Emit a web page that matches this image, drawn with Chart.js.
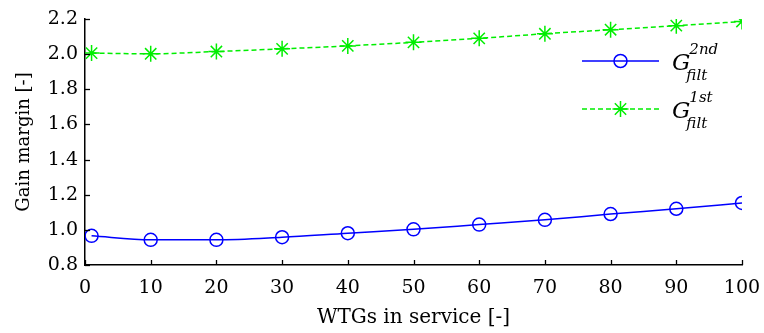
<!DOCTYPE html>
<html>
<head>
<meta charset="utf-8">
<script src="https://cdn.jsdelivr.net/npm/chart.js@4.4.1/dist/chart.umd.min.js"></script>
<style>
  html, body { margin: 0; padding: 0; background: #fff; }
  #wrap { width: 764px; height: 333px; }
</style>
</head>
<body>
<div id="wrap"><canvas id="chart" width="764" height="333"></canvas></div>
<script>
// WTGs in service
const wtgs = [1, 10, 20, 30, 40, 50, 60, 70, 80, 90, 100];
// gain margin, 2nd order filter
const gm2nd = [0.966, 0.943, 0.943, 0.958, 0.981, 1.003, 1.030, 1.057, 1.090, 1.120, 1.153];
// gain margin, 1st order filter
const gm1st = [2.006, 2.002, 2.015, 2.030, 2.047, 2.067, 2.090, 2.116, 2.139, 2.162, 2.186];
const xTicks = [0, 10, 20, 30, 40, 50, 60, 70, 80, 90, 100];
const yTicks = [0.8, 1.0, 1.2, 1.4, 1.6, 1.8, 2.0, 2.2];

const serif = "'DejaVu Serif', serif";

// inward tick marks, like the original plot
const inwardTicks = {
  id: 'inwardTicks',
  afterDraw(chart) {
    const { ctx, chartArea, scales } = chart;
    ctx.save();
    ctx.strokeStyle = '#000';
    ctx.lineWidth = 1.3;
    xTicks.forEach(v => {
      const px = Math.round(scales.x.getPixelForValue(v)) + 0.5;
      ctx.beginPath();
      ctx.moveTo(px, chartArea.bottom);
      ctx.lineTo(px, chartArea.bottom - 5);
      ctx.stroke();
    });
    yTicks.forEach(v => {
      const py = Math.round(scales.y.getPixelForValue(v)) + 0.5;
      ctx.beginPath();
      ctx.moveTo(chartArea.left, py);
      ctx.lineTo(chartArea.left + 5, py);
      ctx.stroke();
    });
    ctx.restore();
  }
};

// legend with G, superscript and subscript
const texLegend = {
  id: 'texLegend',
  afterDraw(chart) {
    const { ctx, chartArea } = chart;
    const x0 = chartArea.right - 160, x1 = chartArea.right - 83;
    const entries = [
      { ds: chart.data.datasets[0], y: 61, sup: '2nd' },
      { ds: chart.data.datasets[1], y: 109, sup: '1st' }
    ];
    ctx.save();
    entries.forEach(e => {
      ctx.strokeStyle = e.ds.borderColor;
      ctx.lineWidth = e.ds.borderWidth;
      ctx.setLineDash(e.ds.borderDash || []);
      ctx.beginPath();
      ctx.moveTo(x0, e.y);
      ctx.lineTo(x1, e.y);
      ctx.stroke();
      ctx.setLineDash([]);
      ctx.fillStyle = 'rgba(0,0,0,0)';
      ctx.lineWidth = e.ds.pointBorderWidth;
      Chart.helpers.drawPoint(ctx, {
        pointStyle: e.ds.pointStyle,
        radius: e.ds.pointRadius,
        borderWidth: e.ds.pointBorderWidth
      }, (x0 + x1) / 2, e.y);

      ctx.fillStyle = '#000';
      ctx.textBaseline = 'alphabetic';
      ctx.textAlign = 'left';
      const gx = x1 + 13;
      ctx.font = 'italic 23px ' + serif;
      ctx.fillText('G', gx, e.y + 9);
      const gw = ctx.measureText('G').width;
      ctx.font = 'italic 15px ' + serif;
      ctx.fillText(e.sup, gx + gw - 1, e.y - 7);
      ctx.fillText('filt', gx + gw - 4, e.y + 19);
    });
    ctx.restore();
  }
};

const ctx = document.getElementById('chart');
new Chart(ctx, {
  type: 'line',
  data: {
    datasets: [
      {
        label: 'G2nd filt',
        data: wtgs.map((x, i) => ({ x, y: gm2nd[i] })),
        borderColor: '#0000ff',
        backgroundColor: 'transparent',
        borderWidth: 1.5,
        pointStyle: 'circle',
        pointRadius: 6.5,
        pointBorderWidth: 1.5,
        pointBorderColor: '#0000ff',
        pointBackgroundColor: 'transparent',
        tension: 0.35,
        cubicInterpolationMode: 'monotone'
      },
      {
        label: 'G1st filt',
        data: wtgs.map((x, i) => ({ x, y: gm1st[i] })),
        borderColor: '#00ee00',
        backgroundColor: 'transparent',
        borderWidth: 1.5,
        borderDash: [5, 3],
        pointStyle: 'star',
        pointRadius: 8,
        pointBorderWidth: 1.5,
        pointBorderColor: '#00ee00',
        pointBackgroundColor: 'transparent',
        tension: 0.35,
        cubicInterpolationMode: 'monotone'
      }
    ]
  },
  options: {
    responsive: false,
    animation: false,
    layout: { padding: { top: 19, right: 22, left: 0, bottom: 0 } },
    plugins: {
      legend: { display: false },
      tooltip: { enabled: false }
    },
    scales: {
      x: {
        type: 'linear',
        min: 0,
        max: 100,
        afterBuildTicks: s => { s.ticks = xTicks.map(v => ({ value: v })); },
        afterFit: s => { s.height = 68; s.paddingLeft = 0; s.paddingRight = 0; },
        grid: { display: false, drawTicks: false },
        border: { display: true, color: '#000', width: 1.5 },
        ticks: { color: '#000', padding: 12, font: { family: serif, size: 19 } },
        title: {
          display: true,
          text: 'WTGs in service [-]',
          color: '#000',
          font: { family: serif, size: 20 },
          padding: { top: 0, bottom: 3 }
        }
      },
      y: {
        type: 'linear',
        min: 0.8,
        max: 2.2,
        afterBuildTicks: s => { s.ticks = yTicks.map(v => ({ value: v })); },
        afterFit: s => { s.width = 85; s.paddingTop = 0; s.paddingBottom = 0; },
        grid: { display: false, drawTicks: false },
        border: { display: true, color: '#000', width: 1.5 },
        ticks: {
          color: '#000',
          padding: 7,
          font: { family: serif, size: 19 },
          callback: v => v.toFixed(1)
        },
        title: {
          display: true,
          text: 'Gain margin [-]',
          color: '#000',
          font: { family: serif, size: 18 },
          padding: { top: 14, bottom: 0 }
        }
      }
    }
  },
  plugins: [inwardTicks, texLegend]
});
</script>
</body>
</html>
